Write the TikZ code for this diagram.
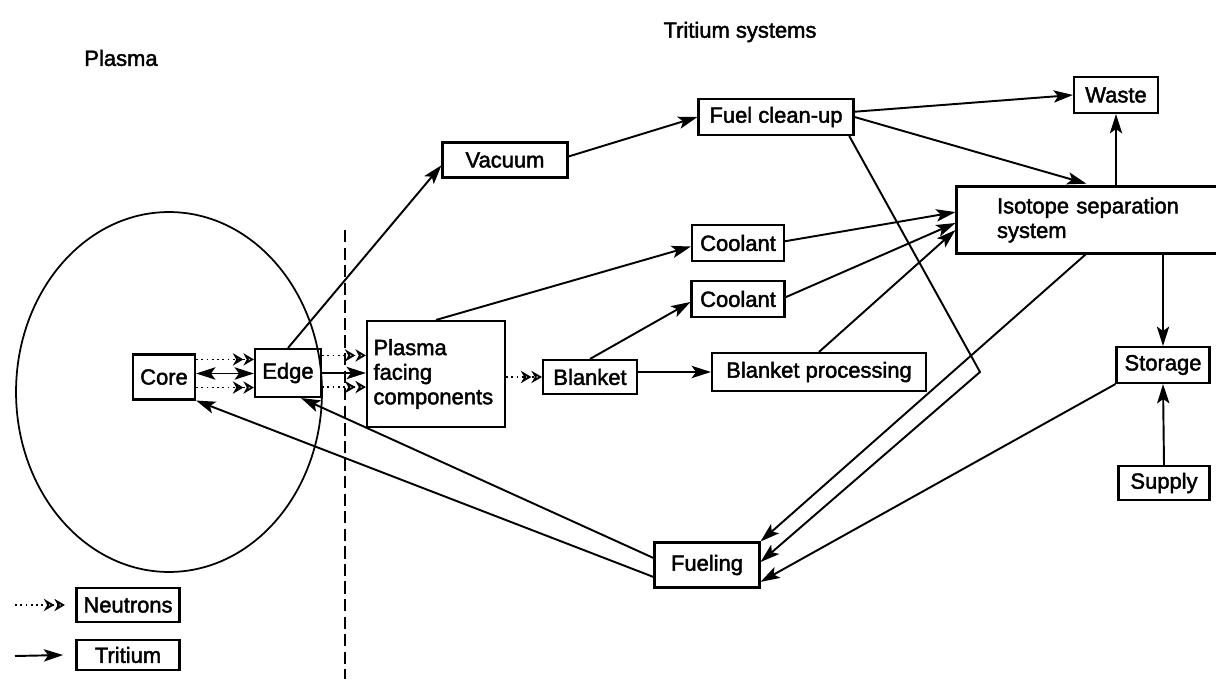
\documentclass[tikz,border=0pt]{standalone}
\usepackage{fontspec}
\setmainfont{Liberation Sans}
\newfontfamily\diagfont{Liberation Sans}[FakeBold=2]
\usetikzlibrary{arrows.meta}

\begin{document}
\begin{tikzpicture}[x=0.02cm, y=-0.02cm,
    txt/.style={font=\diagfont\fontsize{12.5}{14}\selectfont},
    box/.style={txt, draw, line width=1.2pt, inner sep=0pt},
    tritium/.style={line width=1.1pt, -{Stealth[length=11pt,width=7pt,inset=2.5pt]}},
    neutron/.style={line width=1pt, dotted, -{Stealth[open,length=6pt,width=7pt]Stealth[open,length=6pt,width=7pt]}}]
        \useasboundingbox (0,0) rectangle (1216,679);

        % Plasma side
        \node[txt] (plasmatitle) at (121,58) {Plasma};
        \node[txt] (tritiumtitle) at (740,32) {Tritium systems};
        \draw[line width=1pt] (169,392) ellipse [x radius=3.06cm, y radius=3.6cm];
        \draw[line width=1.2pt, dash pattern=on 7pt off 3pt] (345,230) -- (345,679);

        % Boxes
        \node[box, minimum width=1.24cm, minimum height=0.9cm] (core) at (164,377) {Core};
        \node[box, minimum width=1.32cm, minimum height=0.96cm] (edge) at (288,373) {Edge};
        \node[box, minimum width=2.76cm, minimum height=2.12cm, text width=2.5cm, align=left] (pfc) at (436,374) {Plasma\\facing\\components};
        \node[box, minimum width=1.88cm, minimum height=0.68cm] (blanket) at (590,377) {Blanket};
        \node[box, minimum width=4.28cm, minimum height=0.76cm] (bproc) at (819,372) {Blanket processing};
        \node[box, minimum width=1.84cm, minimum height=0.72cm] (cool1) at (738,243) {Coolant};
        \node[box, minimum width=1.86cm, minimum height=0.72cm] (cool2) at (738,299) {Coolant};
        \node[box, minimum width=2.5cm, minimum height=0.7cm] (vacuum) at (505,160) {Vacuum};
        \node[box, minimum width=3.1cm, minimum height=0.72cm] (fuelclean) at (776,117) {Fuel clean-up};
        \node[box, minimum width=1.68cm, minimum height=0.72cm] (waste) at (1116,95) {Waste};
        \node[box, minimum width=5.66cm, minimum height=1.34cm, text width=4.04cm, align=left] (iso) at (1098,220) {Isotope separation\\system};
        \node[box, minimum width=1.86cm, minimum height=0.72cm] (storage) at (1163,365) {Storage};
        \node[box, minimum width=1.82cm, minimum height=0.68cm] (supply) at (1164,483) {Supply};
        \node[box, minimum width=2.1cm, minimum height=0.9cm] (fueling) at (707,565) {Fueling};

        % Legend
        \node[box, minimum width=2.06cm, minimum height=0.68cm] (neutrons) at (128,605) {Neutrons};
        \node[box, minimum width=2.06cm, minimum height=0.6cm] (tritiumkey) at (128,655) {Tritium};
        \coordinate (nkey) at (15,605);
        \coordinate (tkey) at (15,656);
        \draw[neutron] (nkey) -- ([xshift=-6pt]neutrons.west);
        \draw[tritium] (tkey) -- ([xshift=-7pt]tritiumkey.west);

        % Core, edge and first wall
        \draw[neutron] ([yshift=10pt]core.east) -- ([yshift=10pt]core.east -| edge.west);
        \draw[tritium, {Stealth[length=11pt,width=7pt,inset=2.5pt]}-{Stealth[length=11pt,width=7pt,inset=2.5pt]}] ([yshift=2pt]core.east) -- ([yshift=2pt]core.east -| edge.west);
        \draw[neutron] ([yshift=-6pt]core.east) -- ([yshift=-6pt]core.east -| edge.west);
        \draw[neutron] ([yshift=10pt]edge.east) -- ([yshift=10pt]edge.east -| pfc.west);
        \draw[tritium] (edge.east) -- (edge.east -| pfc.west);
        \draw[neutron] ([yshift=-8pt]edge.east) -- ([yshift=-8pt]edge.east -| pfc.west);
        \draw[neutron] (pfc.east |- blanket.west) -- (blanket.west);

        % Tritium flows
        \draw[tritium] (edge.north) -- ([yshift=-3pt]vacuum.west);
        \draw[tritium] ([yshift=2pt]vacuum.east) -- (fuelclean.west);
        \draw[tritium] ([yshift=3pt]fuelclean.east) -- (waste.west);
        \draw[tritium] (fuelclean.east) -- ([xshift=2.62cm, yshift=1pt]iso.north west);
        \draw[tritium] (waste.south |- iso.north) -- (waste.south);
        \draw[tritium] (pfc.north) -- ([yshift=-2pt]cool1.west);
        \draw[tritium] (blanket.north) -- ([yshift=-1.7pt]cool2.west);
        \draw[tritium] (blanket.east |- bproc.west) -- (bproc.west);
        \draw[tritium] ([yshift=1pt]cool1.east) -- ([yshift=4.5pt]iso.west);
        \draw[tritium] ([yshift=1pt]cool2.east) -- ([yshift=-1.7pt]iso.west);
        \draw[tritium] (bproc.north) -- ([yshift=-5.7pt]iso.west);
        \draw[tritium] (storage.north |- iso.south) -- (storage.north);
        \draw[tritium] (supply.north) -- (storage.south);

        % Back to fueling
        \coordinate (bend) at (980,372);
        \draw[tritium] ([xshift=-3pt]fuelclean.south east) -- (bend) -- ([yshift=1.7pt]fueling.east);
        \draw[tritium] ([xshift=2.6cm]iso.south west) -- (fueling.north east);
        \draw[tritium] (storage.south west) -- ([yshift=-9.6pt]fueling.east);
        \draw[tritium] ([yshift=4pt]fueling.west) -- ([xshift=-12pt]edge.south east);
        \draw[tritium] ([yshift=-6.8pt]fueling.west) -- (core.south east);
    \end{tikzpicture}
\end{document}
